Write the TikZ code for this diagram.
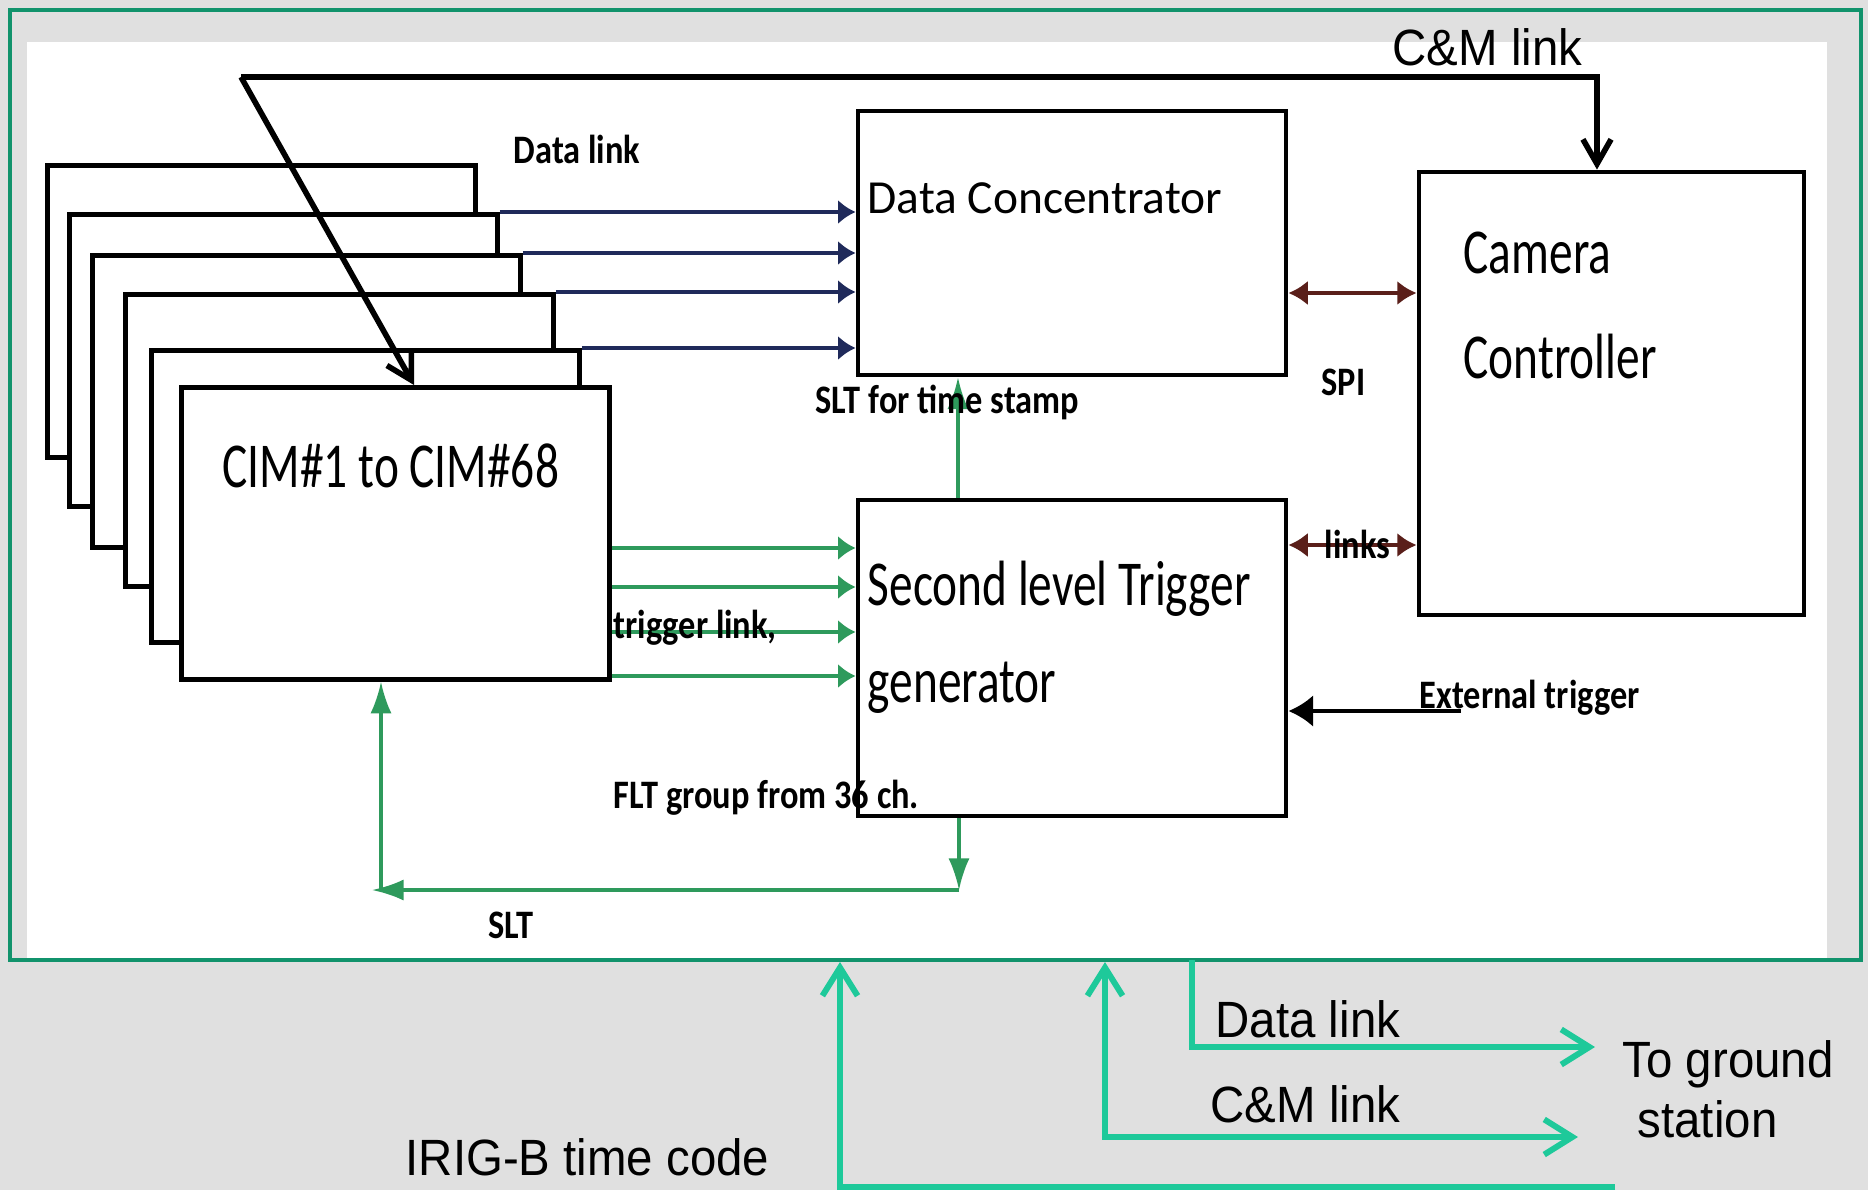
\documentclass[tikz,border=0pt]{standalone}
\usepackage{fontspec}
\usepackage{graphicx}
\usepackage{tikz}
\usetikzlibrary{arrows.meta,calc}
\setmainfont{Carlito}
\newfontfamily\arialfont{Liberation Sans}
\newcommand{\squeezed}[2]{\scalebox{#1}[1]{#2}}
\definecolor{framegreen}{HTML}{11936C}
\definecolor{navyline}{HTML}{1F2A5A}
\definecolor{trigreen}{HTML}{2E9A5C}
\definecolor{brownline}{HTML}{5A1F1A}
\definecolor{tealline}{HTML}{1EC99A}
\definecolor{bggray}{HTML}{E0E0E0}
\tikzstyle{dataarrow} = [navyline,line width=1.2pt,-{Latex[length=5pt,width=7pt]}]
\tikzstyle{trigarrow} = [trigreen,line width=1.4pt,-{Latex[length=5pt,width=7pt]}]
\tikzstyle{sltarrow} = [trigreen,line width=0.9pt,-{Latex[length=9pt,width=6pt]}]
\tikzstyle{spiarrow} = [brownline,line width=1.2pt,{Latex[length=5.5pt,width=7pt]}-{Latex[length=5.5pt,width=7pt]}]
\tikzstyle{extarrow} = [black,line width=1.1pt,-{Latex[length=7pt,width=9pt]}]
\tikzstyle{cmarrow} = [black,line width=1.6pt,-{Straight Barb[length=7pt,width=8pt]}]
\tikzstyle{outarrow} = [tealline,line width=1.7pt,-{Straight Barb[length=8pt,width=10pt]}]

\begin{document}
\begin{tikzpicture}
[x=0.01cm, y=-0.01cm,
cimbox/.style={rectangle,draw=black,line width=1.3pt,fill=white,inner sep=0pt,
  minimum width=4.28cm,minimum height=2.92cm,anchor=north west},
unitbox/.style={rectangle,draw=black,line width=1.3pt,fill=white,inner sep=0pt},
dctext/.style={font=\fontsize{13.5}{16}\selectfont,anchor=base west,inner sep=0pt},
bigtext/.style={font=\fontsize{18.2}{21}\selectfont,anchor=base west,inner sep=0pt},
boldlabel/.style={font=\bfseries\fontsize{11.5}{13}\selectfont,anchor=base west,inner sep=0pt},
outlabel/.style={font=\arialfont\fontsize{14.5}{17}\selectfont,anchor=base west,inner sep=0pt}]
% background and frame
\fill[bggray] (0,0) rectangle (1868,1190);
\fill[white] (27,42) rectangle (1827,960);
\draw[framegreen,line width=0.9pt] (10,10) rectangle (1861,960);

% stack of CIM boards
\foreach \i/\px/\py in {1/45/163, 2/67/212, 3/90/253, 4/123/292, 5/149/348, 6/179/385}
  \node[cimbox] (cim\i) at (\px,\py) {};
\node[bigtext] (cimname) at (222,487) {\squeezed{0.74}{CIM\#1 to CIM\#68}};

% main units
\node[unitbox,minimum width=4.28cm,minimum height=2.64cm] (dc) at (1072,243) {};
\node[unitbox,minimum width=4.28cm,minimum height=3.16cm] (sltg) at (1072,658) {};
\node[unitbox,minimum width=3.85cm,minimum height=4.43cm] (cc) at (1611.5,393.5) {};
\node[dctext] (dcname) at (867,213) {Data Concentrator};
\node[bigtext] (sltgname) at (867,605) {\squeezed{0.74}{Second level Trigger}};
\node[bigtext] (genname) at (867,702) {\squeezed{0.74}{generator}};
\node[bigtext] (camname) at (1463,273) {\squeezed{0.74}{Camera}};
\node[bigtext] (ctrlname) at (1463,378) {\squeezed{0.74}{Controller}};

% data links
\foreach \i in {2,...,5}
  \draw[dataarrow] (cim\i.north east) -- (cim\i.north east -| dc.west);
\node[boldlabel] (datalinklbl) at (513,163) {\squeezed{0.85}{Data link}};

% trigger links
\foreach \y in {548,587,632,676}
  \draw[trigarrow] (cim6.east |- 0,\y) -- (sltg.west |- 0,\y);
\node[boldlabel] (triglbl) at (613,638) {\squeezed{0.85}{trigger link,}};
\node[boldlabel] (fltlbl) at (613,808) {\squeezed{0.85}{FLT group from 36 ch.}};

% SLT
\coordinate (stamp) at (958,440);
\draw[sltarrow] (sltg.north -| stamp) -- (dc.south -| stamp);
\node[boldlabel] (stamplbl) at (815,413) {\squeezed{0.85}{SLT for time stamp}};
\coordinate (sltr) at (959,890);
\coordinate (sltl) at (381,890);
\draw[sltarrow] (sltg.south -| sltr) -- (sltr);
\draw[sltarrow] (sltr) -- ([xshift=-0.09cm]sltl);
\draw[sltarrow] (sltl) -- (cim6.south -| sltl);
\node[boldlabel] (sltlbl) at (488,938) {\squeezed{0.85}{SLT}};

% camera controller links
\draw[spiarrow] (dc.east |- 0,293) -- (cc.west |- 0,293);
\node[boldlabel] (spilbl) at (1321,395) {\squeezed{0.85}{SPI}};
\draw[spiarrow] (sltg.east |- 0,545) -- (cc.west |- 0,545);
\node[boldlabel] (linkslbl) at (1324,558) {\squeezed{0.85}{links}};
\coordinate (extstart) at (1461,711);
\draw[extarrow] (extstart) -- (sltg.east |- extstart);
\node[boldlabel] (extlbl) at (1419,708) {\squeezed{0.85}{External trigger}};

% C&M link
\coordinate (cmleft) at (241,77);
\coordinate (cmright) at (1597,77);
\draw[cmarrow] (cmleft) -- (cmright) -- (cmright |- cc.north);
\draw[cmarrow] (cmleft) -- (cim6.north -| 414,0);
\node[outlabel] (cmtoplbl) at (1392,65) {\squeezed{0.93}{C\&M link}};

% links to ground
\coordinate (dltop) at (1192,960);
\coordinate (dltip) at (1595,1047);
\draw[outarrow] (dltop) |- (dltip);
\coordinate (cmtop) at (1105,962);
\coordinate (cmtip) at (1578,1137);
\draw[outarrow,{Straight Barb[length=8pt,width=10pt]}-{Straight Barb[length=8pt,width=10pt]}] (cmtop) |- (cmtip);
\coordinate (irigtop) at (840,962);
\coordinate (irigend) at (1615,1187);
\draw[outarrow] (irigend) -| (irigtop);
\node[outlabel] (dlbotlbl) at (1215,1037) {\squeezed{0.93}{Data link}};
\node[outlabel] (cmbotlbl) at (1210,1122) {\squeezed{0.93}{C\&M link}};
\node[outlabel] (groundlbl) at (1622,1077) {\squeezed{0.93}{To ground}};
\node[outlabel] (stationlbl) at (1637,1137) {\squeezed{0.93}{station}};
\node[outlabel] (iriglbl) at (405,1175) {\squeezed{0.93}{IRIG-B time code}};
\end{tikzpicture}
\end{document}
